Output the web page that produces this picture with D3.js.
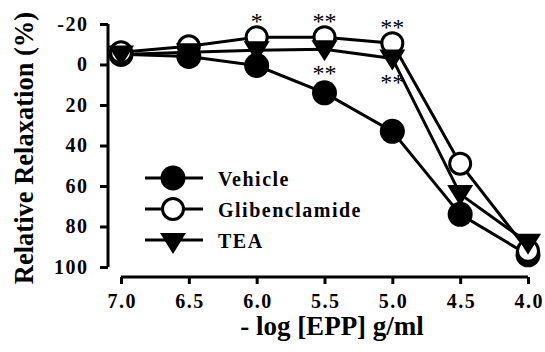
<!DOCTYPE html>
<html><head><meta charset="utf-8">
<script src="https://cdn.jsdelivr.net/npm/d3@7"></script>
<style>body{margin:0;background:#fff}svg{display:block}
text{font-family:"Liberation Serif","DejaVu Serif","Times New Roman",serif !important;}</style>
</head><body>
<script>
const xValues = [7.0, 6.5, 6.0, 5.5, 5.0, 4.5, 4.0];
const vehicle = [-5, -4, 0.5, 14, 33, 74, 94];
const glibenclamide = [-6, -9, -13.5, -13.5, -10.5, 49, 92];
const tea = [-5, -6, -7, -7.5, -3, 64, 88];
const xTicks = [7.0, 6.5, 6.0, 5.5, 5.0, 4.5, 4.0];
const yTicks = [-20, 0, 20, 40, 60, 80, 100];
const seriesNames = ["Vehicle", "Glibenclamide", "TEA"];
const sigUpper = [{x: 6.0, label: "*", v: glibenclamide[2]}, {x: 5.5, label: "**", v: glibenclamide[3]}, {x: 5.0, label: "**", v: glibenclamide[4]}];
const sigLower = [{x: 5.5, label: "**", v: tea[3]}, {x: 5.0, label: "**", v: tea[4]}];

const W = 545, H = 352;
const svg = d3.select("body").append("svg").attr("width", W).attr("height", H);

const x = d3.scaleLinear().domain([7.0, 4.0]).range([121, 528]);
const y = d3.scaleLinear().domain([-20, 100]).range([24, 267]);

// axes
const yAxis = svg.append("g").attr("transform", "translate(108,0)")
  .call(d3.axisLeft(y).tickValues(yTicks).tickSize(8).tickPadding(11.5).tickFormat(d => String(d)));
const xAxis = svg.append("g").attr("transform", "translate(0,277)")
  .call(d3.axisBottom(x).tickValues(xTicks).tickSize(7).tickPadding(10).tickFormat(d => d.toFixed(1)));
[yAxis, xAxis].forEach(g => {
  g.attr("font-family", null);
  g.select(".domain").attr("stroke", "#000").attr("stroke-width", 3);
  g.selectAll(".tick line").attr("stroke", "#000").attr("stroke-width", 3);
  g.selectAll(".tick text").attr("fill", "#000")
    .attr("font-weight", "bold").attr("font-size", 20).attr("letter-spacing", 1.5);
});
xAxis.selectAll(".tick text").attr("dx", 0.75);
yAxis.select(".domain").attr("d", `M-0,${y(-20)}H0V${y(100)}H-0`);
xAxis.select(".domain").attr("d", `M${x(7.0)},0V0H${x(4.0)}V0`);

// titles
svg.append("text").attr("x", 332).attr("y", 335).attr("text-anchor", "middle")
  .attr("font-weight", "bold").attr("font-size", 27).attr("fill", "#000")
  .text("- log [EPP] g/ml");
svg.append("text").attr("transform", "translate(33,148) rotate(-90)").attr("text-anchor", "middle")
  .attr("font-weight", "bold").attr("font-size", 26.5).attr("fill", "#000")
  .text("Relative Relaxation (%)");

const series = [
  {name: seriesNames[0], vals: vehicle, type: "filled"},
  {name: seriesNames[1], vals: glibenclamide, type: "open"},
  {name: seriesNames[2], vals: tea, type: "tri"}
];

const line = d3.line().x(d => x(d[0])).y(d => y(d[1]));
series.forEach(s => {
  svg.append("path").datum(xValues.map((xv, i) => [xv, s.vals[i]]))
    .attr("d", line).attr("fill", "none").attr("stroke", "#000").attr("stroke-width", 3);
});

function marker(g, type, cx, cy) {
  if (type === "filled") {
    g.append("circle").attr("cx", cx).attr("cy", cy).attr("r", 12.5).attr("fill", "#000");
  } else if (type === "open") {
    g.append("circle").attr("cx", cx).attr("cy", cy).attr("r", 10.5).attr("fill", "#fff")
      .attr("stroke", "#000").attr("stroke-width", 3);
  } else {
    g.append("path").attr("d", `M${cx - 13},${cy - 9}L${cx + 13},${cy - 9}L${cx},${cy + 12}Z`).attr("fill", "#000");
  }
}
series.forEach(s => {
  const g = svg.append("g");
  xValues.forEach((xv, i) => marker(g, s.type, x(xv), y(s.vals[i])));
});

// significance markers
svg.selectAll(".sigU").data(sigUpper).enter().append("text")
  .attr("x", d => x(d.x)).attr("y", d => y(d.v) - 8.5).attr("text-anchor", "middle")
  .attr("font-size", 24).attr("fill", "#000").text(d => d.label);
svg.selectAll(".sigL").data(sigLower).enter().append("text")
  .attr("x", d => x(d.x)).attr("y", d => y(d.v) + 31.5).attr("text-anchor", "middle")
  .attr("font-size", 24).attr("fill", "#000").text(d => d.label);

// legend
const legY = [178, 209, 240];
series.forEach((s, i) => {
  const g = svg.append("g");
  g.append("line").attr("x1", 145).attr("x2", 203).attr("y1", legY[i]).attr("y2", legY[i])
    .attr("stroke", "#000").attr("stroke-width", 3);
  marker(g, s.type, 173, legY[i] + (s.type === "tri" ? 2 : 0));
  g.append("text").attr("x", 218).attr("y", legY[i] + 8)
    .attr("font-weight", "bold").attr("font-size", 20).attr("letter-spacing", 1.5)
    .attr("fill", "#000").text(s.name);
});
</script>
</body></html>
